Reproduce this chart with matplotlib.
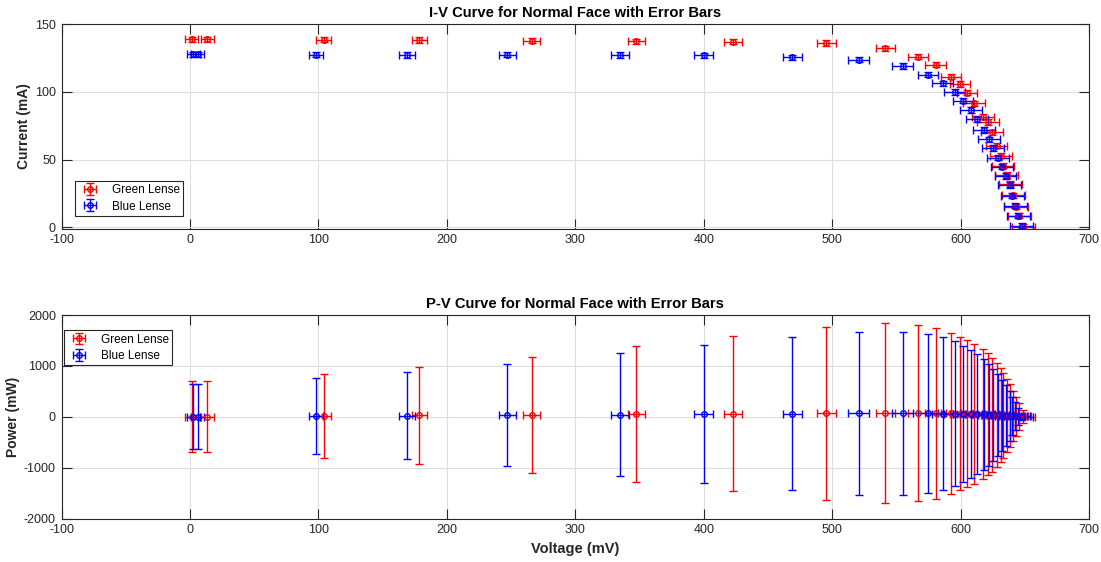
import matplotlib
matplotlib.use('Agg')
import matplotlib.pyplot as plt
import numpy as np

plt.rcParams['font.family'] = ['Liberation Sans', 'DejaVu Sans']
plt.rcParams['axes.unicode_minus'] = False

# ---------------- data ----------------
green_v = [1.5, 13.5, 104, 178.5, 266, 347.5, 423, 495.5, 541.5, 566.7, 580.5,
           592.4, 599.7, 605, 610.3, 617.5, 621.2, 624.5, 628, 631.3, 633.3,
           636, 638.6, 641.2, 643.2, 645.8, 648.9]
green_i = [138.9, 138.9, 138.6, 138.4, 137.9, 137.4, 137.1, 136.2, 132.3, 126,
           120.2, 111.3, 105.7, 99.5, 91.6, 81.7, 77.6, 70.2, 60.3, 52.9, 45.5,
           38.6, 31.8, 23.6, 15.2, 8.6, 0.0]
green_verr = [5, 5, 5.5, 6, 6.5, 6.5, 7, 7.5, 7.5, 8, 8, 8, 8, 8, 8.5, 8.5, 8.5,
              8.5, 8.5, 8.5, 8.5, 9, 9, 9, 9, 9, 9]
green_ierr = [2] * 27
green_perr = [700, 700, 817, 955, 1140, 1335, 1525, 1696, 1765, 1736, 1680,
              1581, 1509, 1443, 1370, 1280, 1200, 1120, 1020, 920, 830, 720,
              620, 500, 380, 260, 130]

blue_v = [2.5, 6, 97.8, 169, 247, 335, 400, 469, 520.6, 555, 574.5, 586, 595.3,
          602, 608, 612.6, 618.3, 622, 625.5, 629.4, 632.3, 635, 638.3, 640.3,
          642.7, 645, 647.6]
blue_i = [127.8, 127.8, 127.5, 127.3, 127.5, 127.3, 127.1, 125.5, 123.8, 119.2,
          112.8, 106.4, 99.8, 93.5, 86.5, 80, 71.9, 65, 58.4, 51.4, 44.8, 37.9,
          31.3, 23.4, 16, 8.6, 1.2]
blue_verr = [5, 5, 5.5, 6, 6.5, 7, 7.3, 7.5, 7.9, 8, 8, 8, 8, 8, 8.5, 8.5, 8.5,
             8.5, 8.5, 8.5, 8.5, 8.5, 8.8, 8.8, 8.8, 8.8, 8.8]
blue_ierr = [2] * 27
blue_perr = [643, 643, 748, 860, 1000, 1201, 1352, 1502, 1604, 1598, 1568, 1509,
             1424, 1342, 1263, 1180, 1100, 1000, 900, 800, 700, 600, 490, 380,
             270, 170, 60]

series = [
    ("Green Lense", "#ff0000", green_v, green_i, green_verr, green_ierr, green_perr),
    ("Blue Lense", "#0000ff", blue_v, blue_i, blue_verr, blue_ierr, blue_perr),
]

xticks = [-100, 0, 100, 200, 300, 400, 500, 600, 700]
iv_yticks = [0, 50, 100, 150]
pv_yticks = [-2000, -1000, 0, 1000, 2000]

TXT = '#262626'

fig = plt.figure(figsize=(11.01, 5.62), dpi=100)
ax1 = fig.add_axes([0.0559, 0.5934, 0.9332, 0.3634])
ax2 = fig.add_axes([0.0559, 0.0774, 0.9332, 0.3621])


def style(ax):
    ax.set_xlim(-100, 700)
    ax.set_xticks(xticks)
    ax.grid(True, color='#dedede', lw=0.8)
    ax.set_axisbelow(True)
    ax.tick_params(direction='in', top=True, right=True, length=7, width=0.8,
                   colors=TXT, labelsize=9, pad=4)
    for s in ax.spines.values():
        s.set_color(TXT)
        s.set_linewidth(0.8)


for name, col, v, i, verr, ierr, perr in series:
    ax1.errorbar(v, i, xerr=verr, yerr=ierr, fmt='o', color=col, ms=4,
                 mfc='none', mew=1, elinewidth=1, capsize=3, capthick=1,
                 label=name)
    p = [a * b / 1000.0 for a, b in zip(v, i)]
    ax2.errorbar(v, p, xerr=verr, yerr=perr, fmt='o', color=col, ms=4,
                 mfc='none', mew=1, elinewidth=1, capsize=3, capthick=1,
                 label=name)

style(ax1)
style(ax2)
ax1.set_ylim(-1, 150)
ax1.set_yticks(iv_yticks)
ax2.set_ylim(-2000, 2000)
ax2.set_yticks(pv_yticks)

ax1.set_title('I-V Curve for Normal Face with Error Bars', fontsize=10.6,
              fontweight='bold', color='black', pad=5)
ax2.set_title('P-V Curve for Normal Face with Error Bars', fontsize=10.6,
              fontweight='bold', color='black', pad=5)
ax1.set_ylabel('Current (mA)', fontsize=10, fontweight='bold', color=TXT,
               labelpad=3)
ax2.set_ylabel('Power (mW)', fontsize=10, fontweight='bold', color=TXT,
               labelpad=3)
ax2.set_xlabel('Voltage (mV)', fontsize=10.5, fontweight='bold', color=TXT)

for ax, loc, anchor in ((ax1, 'lower left', (0.0131, 0.061)),
                        (ax2, 'upper left', (0.0024, 0.926))):
    leg = ax.legend(loc=loc, bbox_to_anchor=anchor, fontsize=8.5,
                    fancybox=False, framealpha=1, edgecolor=TXT,
                    borderpad=0.3, handlelength=2.0, labelspacing=0.35,
                    borderaxespad=0, handletextpad=0.8)
    leg.get_frame().set_linewidth(0.8)

fig.savefig('out.png', dpi=100)
